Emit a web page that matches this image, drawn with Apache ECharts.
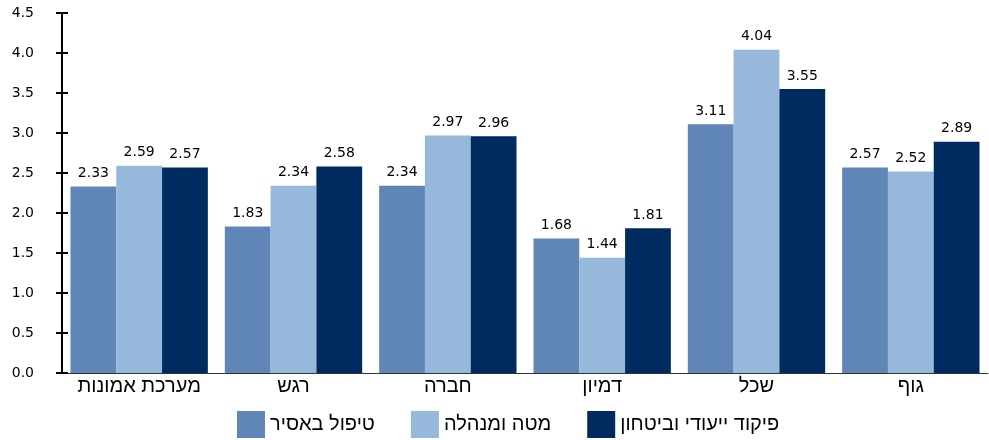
<!DOCTYPE html>
<html><head><meta charset="utf-8">
<script src="https://cdn.jsdelivr.net/npm/echarts@6/dist/echarts.min.js"></script>
<style>html,body{margin:0;padding:0;background:#fff}#c{width:989px;height:440px}</style>
</head><body><div id="c"></div>
<script>
const categories = ['מערכת אמונות','רגש','חברה','דמיון','שכל','גוף'];
const seriesNames = ['טיפול באסיר','מטה ומנהלה','פיקוד ייעודי וביטחון'];
const s1 = [2.33,1.83,2.34,1.68,3.11,2.57];
const s2 = [2.59,2.34,2.97,1.44,4.04,2.52];
const s3 = [2.57,2.58,2.96,1.81,3.55,2.89];
const colors = ['#5f86b7','#95b8db','#002b60'];
const font = '"Liberation Sans", Arial, sans-serif';
const numFont = '"DejaVu Sans", sans-serif';
const chart = echarts.init(document.getElementById('c'));
const mk = (name, data, color) => ({
  name, type:'bar', data, barGap:'0%', barCategoryGap:'11%',
  itemStyle:{color},
  label:{show:true, position:'top', distance:6, color:'#000', fontSize:14, fontFamily:numFont,
    formatter:p=>p.value.toFixed(2)}
});
const yBase = {type:'value', min:0, max:4.5, interval:0.5, splitLine:{show:false}};
chart.setOption({
  animation:false,
  textStyle:{fontFamily:font},
  grid:{left:62, right:1, top:13, bottom:67},
  legend:{bottom:2, left:237, padding:0, itemWidth:28, itemHeight:27, itemGap:36,
    icon:'rect', textStyle:{fontSize:20, color:'#000', fontFamily:font},
    data:seriesNames},
  xAxis:{type:'category', data:categories,
    axisLine:{lineStyle:{color:'#333', width:1}},
    axisTick:{show:false},
    axisLabel:{color:'#000', fontSize:20, margin:3, interval:0, fontFamily:font}},
  yAxis:[
    Object.assign({}, yBase, {
      axisLine:{show:true, lineStyle:{color:'#000', width:2}},
      axisTick:{show:true, length:6, lineStyle:{color:'#000', width:2}},
      axisLabel:{color:'#000', fontSize:14, margin:28, fontFamily:numFont,
        formatter:v=>v.toFixed(1)}}),
    Object.assign({}, yBase, {position:'left',
      axisLine:{show:false},
      axisTick:{show:true, inside:true, length:6, lineStyle:{color:'#000', width:2}},
      axisLabel:{show:false}})
  ],
  series:[mk(seriesNames[0], s1, colors[0]), mk(seriesNames[1], s2, colors[1]), mk(seriesNames[2], s3, colors[2])]
});
</script></body></html>
